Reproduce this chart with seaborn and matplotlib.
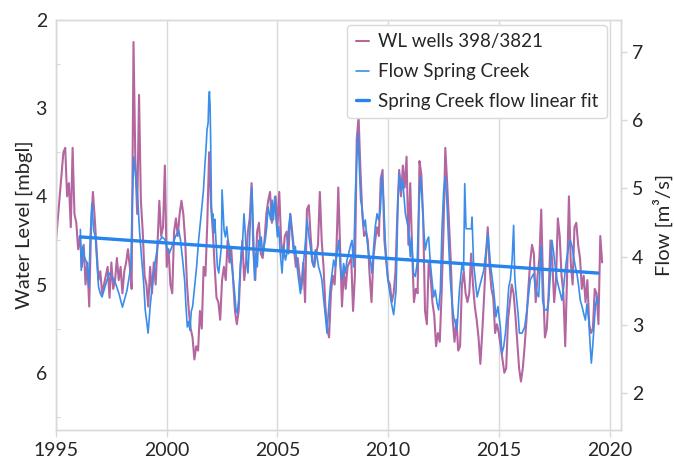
import numpy as np
import matplotlib
matplotlib.use("Agg")
import matplotlib.pyplot as plt
import seaborn as sns
from matplotlib.ticker import MultipleLocator, FixedLocator

# ---- Water level, wells 398/3821 (monthly, m below ground level) ----
wl_first_year = 1995
wl_1995 = [4.5, 4.25, 4.0, 3.75, 3.5, 3.45, 4.0, 3.85, 4.35, 3.45, 4.2, 4.3]
wl_1996 = [4.6, 4.45, 4.8, 4.55, 5.0, 4.75, 5.25, 4.35, 3.95, 4.25, 4.6, 4.95]
wl_1997 = [4.85, 5.1, 5.0, 4.9, 4.8, 5.15, 4.75, 5.05, 4.95, 4.7, 4.95, 4.8]
wl_1998 = [5.1, 4.85, 4.75, 4.6, 4.8, 5.05, 2.25, 3.6, 4.2, 2.85, 4.05, 4.4]
wl_1999 = [4.9, 5.0, 5.25, 4.8, 5.1, 4.75, 5.0, 4.55, 4.05, 4.45, 4.35, 3.65]
wl_2000 = [4.8, 4.6, 5.0, 5.1, 4.4, 4.25, 4.45, 4.2, 4.05, 4.2, 4.5, 5.0]
wl_2001 = [5.3, 5.5, 5.6, 5.85, 5.7, 5.75, 5.3, 5.5, 4.8, 4.9, 4.3, 3.5]
wl_2002 = [4.1, 4.4, 4.8, 5.15, 5.2, 5.4, 4.95, 4.8, 4.95, 4.5, 4.75, 4.6]
wl_2003 = [4.95, 5.3, 5.45, 5.3, 4.8, 4.5, 4.95, 4.75, 4.4, 4.25, 3.85, 4.65]
wl_2004 = [4.95, 4.4, 4.3, 4.65, 4.7, 4.5, 4.2, 4.05, 3.95, 4.3, 4.15, 4.0]
wl_2005 = [4.35, 3.95, 4.5, 4.7, 4.45, 4.4, 4.65, 4.2, 4.4, 4.6, 4.8, 4.7]
wl_2006 = [4.9, 5.05, 4.75, 5.2, 4.15, 4.1, 4.45, 4.75, 4.8, 4.65, 4.55, 3.95]
wl_2007 = [4.5, 4.8, 5.25, 5.5, 5.6, 5.1, 4.9, 5.0, 4.6, 3.9, 4.6, 5.25]
wl_2008 = [4.85, 5.05, 4.8, 4.75, 4.7, 5.3, 4.9, 3.35, 3.1, 3.7, 4.2, 4.45]
wl_2009 = [4.4, 4.5, 4.9, 5.2, 4.7, 4.5, 4.35, 4.45, 3.8, 3.7, 4.5, 4.75]
wl_2010 = [4.95, 5.0, 5.2, 5.1, 4.85, 4.2, 3.7, 4.0, 3.65, 3.9, 3.55, 4.55]
wl_2011 = [3.85, 4.6, 5.2, 5.05, 5.1, 3.6, 3.75, 4.25, 5.3, 5.45, 4.75, 4.9]
wl_2012 = [5.2, 5.35, 5.7, 5.55, 5.65, 5.1, 4.4, 3.45, 3.85, 4.3, 4.75, 5.4]
wl_2013 = [5.65, 5.4, 5.75, 5.7, 5.0, 4.85, 5.1, 5.2, 5.1, 4.65, 5.0, 5.25]
wl_2014 = [5.4, 5.6, 5.9, 5.55, 5.15, 4.7, 4.35, 4.8, 5.05, 5.15, 5.55, 5.45]
wl_2015 = [5.55, 5.7, 5.85, 6.0, 5.95, 5.4, 5.2, 5.0, 5.1, 5.35, 5.65, 5.95]
wl_2016 = [6.1, 5.95, 5.7, 5.4, 5.05, 4.75, 4.55, 4.65, 5.2, 4.9, 4.7, 4.15]
wl_2017 = [5.0, 5.6, 5.5, 5.1, 4.5, 4.75, 5.2, 4.95, 4.25, 4.45, 4.9, 5.1]
wl_2018 = [5.7, 4.9, 4.0, 4.75, 5.0, 4.35, 4.3, 4.55, 4.7, 5.05, 4.9, 5.2]
wl_2019 = [4.95, 5.45, 5.55, 5.5, 5.05, 5.1, 5.45, 4.45, 4.75]

wl_values = (wl_1995 + wl_1996 + wl_1997 + wl_1998 + wl_1999 + wl_2000 + wl_2001
             + wl_2002 + wl_2003 + wl_2004 + wl_2005 + wl_2006 + wl_2007 + wl_2008
             + wl_2009 + wl_2010 + wl_2011 + wl_2012 + wl_2013 + wl_2014 + wl_2015
             + wl_2016 + wl_2017 + wl_2018 + wl_2019)
wl_years = wl_first_year + np.arange(len(wl_values)) / 12.0

# ---- Spring Creek flow (m3/s), irregular sampling, decimal years ----
flow_years = [
    1996.10, 1996.14, 1996.21, 1996.28, 1996.40, 1996.48, 1996.55, 1996.62, 1996.70, 1996.78,
    1996.85, 1996.92, 1997.00, 1997.08, 1997.25, 1997.40, 1997.55, 1997.70, 1997.85, 1998.00,
    1998.20, 1998.38, 1998.43, 1998.51, 1998.58, 1998.70, 1998.77, 1998.86, 1998.96, 1999.03,
    1999.16, 1999.26, 1999.42, 1999.61, 1999.79, 1999.92, 2000.00, 2000.12, 2000.24, 2000.39,
    2000.54, 2000.62, 2000.72, 2000.81, 2000.87, 2000.93, 2000.99, 2001.05, 2001.11, 2001.17,
    2001.26, 2001.35, 2001.44, 2001.56, 2001.66, 2001.72, 2001.78, 2001.82, 2001.87, 2001.90,
    2001.93, 2001.96, 2001.99, 2002.02, 2002.05, 2002.08, 2002.13, 2002.17, 2002.23, 2002.29,
    2002.35, 2002.41, 2002.47, 2002.50, 2002.54, 2002.59, 2002.65, 2002.71, 2002.77, 2002.83,
    2002.89, 2002.95, 2003.01, 2003.07, 2003.13, 2003.19, 2003.25, 2003.31, 2003.37, 2003.43,
    2003.49, 2003.55, 2003.61, 2003.67, 2003.73, 2003.79, 2003.85, 2003.91, 2003.97, 2004.03,
    2004.09, 2004.15, 2004.21, 2004.27, 2004.33, 2004.39, 2004.45, 2004.52, 2004.58, 2004.64,
    2004.70, 2004.76, 2004.82, 2004.88, 2004.94, 2005.00, 2005.06, 2005.13, 2005.21, 2005.28,
    2005.36, 2005.43, 2005.51, 2005.58, 2005.66, 2005.73, 2005.81, 2005.89, 2005.96, 2006.04,
    2006.11, 2006.19, 2006.26, 2006.34, 2006.41, 2006.49, 2006.56, 2006.64, 2006.71, 2006.79,
    2006.86, 2006.94, 2007.01, 2007.09, 2007.17, 2007.24, 2007.32, 2007.39, 2007.47, 2007.54,
    2007.62, 2007.69, 2007.77, 2007.84, 2007.92, 2007.99, 2008.07, 2008.14, 2008.22, 2008.29,
    2008.37, 2008.44, 2008.52, 2008.60, 2008.64, 2008.70, 2008.76, 2008.82, 2008.90, 2008.97,
    2009.05, 2009.12, 2009.20, 2009.27, 2009.35, 2009.42, 2009.50, 2009.57, 2009.65, 2009.72,
    2009.80, 2009.87, 2009.99, 2010.15, 2010.25, 2010.36, 2010.45, 2010.51, 2010.60, 2010.66,
    2010.72, 2010.78, 2010.93, 2011.00, 2011.05, 2011.15, 2011.23, 2011.31, 2011.38, 2011.46,
    2011.53, 2011.61, 2011.68, 2011.76, 2011.83, 2011.91, 2011.98, 2012.06, 2012.13, 2012.21,
    2012.28, 2012.36, 2012.43, 2012.51, 2012.58, 2012.66, 2012.74, 2012.81, 2012.89, 2012.96,
    2013.11, 2013.22, 2013.34, 2013.41, 2013.46, 2013.52, 2013.76, 2013.79, 2013.86, 2014.02,
    2014.17, 2014.32, 2014.51, 2014.62, 2014.77, 2014.81, 2014.87, 2014.96, 2015.07, 2015.14,
    2015.22, 2015.30, 2015.37, 2015.45, 2015.52, 2015.60, 2015.67, 2015.72, 2015.78, 2015.87,
    2015.93, 2016.05, 2016.17, 2016.27, 2016.35, 2016.42, 2016.50, 2016.58, 2016.65, 2016.73,
    2016.80, 2016.88, 2016.92, 2016.98, 2017.07, 2017.18, 2017.25, 2017.33, 2017.40, 2017.48,
    2017.55, 2017.63, 2017.70, 2017.78, 2017.85, 2017.93, 2018.00, 2018.08, 2018.16, 2018.23,
    2018.31, 2018.38, 2018.46, 2018.53, 2018.61, 2018.68, 2018.76, 2018.83, 2018.91, 2018.98,
    2019.06, 2019.13, 2019.18, 2019.24, 2019.30, 2019.36, 2019.44, 2019.48,
]
flow_values = [
    4.40, 3.80, 4.15, 4.00, 3.90, 3.56, 4.29, 4.78, 4.39, 4.29,
    3.91, 3.56, 3.46, 3.41, 3.60, 3.76, 3.70, 3.60, 3.45, 3.26,
    3.50, 3.85, 4.63, 5.46, 5.25, 4.80, 4.39, 4.00, 3.61, 3.22,
    2.88, 3.30, 3.80, 4.20, 4.29, 4.25, 4.15, 4.05, 4.15, 4.29,
    4.39, 4.25, 3.95, 3.65, 3.27, 2.97, 3.05, 2.92, 3.20, 3.27,
    3.56, 3.85, 4.24, 4.63, 4.98, 5.32, 5.61, 5.86, 5.96, 6.30,
    6.42, 6.20, 5.60, 4.73, 4.55, 4.63, 4.35, 4.55, 4.20, 3.85,
    3.76, 3.95, 4.15, 4.98, 4.73, 4.39, 4.29, 4.44, 4.24, 4.15,
    3.95, 3.85, 3.66, 3.46, 3.22, 3.17, 3.37, 3.76, 4.05, 4.24,
    4.63, 4.34, 3.95, 3.76, 4.15, 4.63, 5.02, 4.39, 3.66, 4.05,
    3.85, 4.24, 4.15, 4.29, 4.05, 4.15, 4.24, 4.44, 4.73, 4.63,
    4.54, 4.83, 4.54, 4.88, 4.54, 4.29, 4.44, 4.05, 3.76, 4.15,
    3.95, 4.05, 4.44, 4.63, 4.34, 4.05, 4.15, 3.85, 3.66, 3.46,
    3.66, 3.95, 4.20, 4.54, 4.34, 4.15, 3.95, 3.85, 4.10, 4.00,
    3.85, 3.76, 3.66, 3.37, 3.12, 2.88, 3.27, 3.56, 3.76, 3.95,
    3.85, 4.05, 4.24, 3.85, 3.66, 3.90, 3.76, 3.95, 4.05, 4.15,
    4.24, 3.85, 4.93, 5.56, 5.81, 5.32, 4.83, 4.73, 4.44, 4.54,
    4.24, 4.05, 3.95, 3.76, 4.15, 4.44, 4.63, 4.54, 4.68, 5.20,
    4.80, 4.24, 3.66, 3.32, 3.15, 3.51, 4.88, 5.22, 4.97, 5.12,
    4.88, 4.63, 4.39, 4.00, 4.29, 3.76, 3.71, 3.90, 4.63, 5.17,
    4.88, 4.39, 4.10, 4.24, 4.29, 3.90, 3.66, 3.41, 3.51, 3.32,
    3.22, 3.51, 4.39, 4.97, 5.17, 4.78, 4.14, 3.66, 3.32, 3.12,
    2.93, 3.51, 3.90, 3.80, 5.07, 4.41, 4.41, 4.58, 3.90, 3.41,
    3.61, 3.80, 4.34, 3.90, 3.50, 3.36, 3.12, 3.27, 2.97, 2.58,
    2.68, 2.88, 3.17, 3.56, 3.66, 3.95, 4.46, 3.71, 3.46, 3.17,
    2.88, 2.88, 2.97, 3.22, 3.46, 3.66, 3.71, 3.75, 3.56, 3.46,
    3.41, 3.95, 4.15, 3.36, 3.22, 3.22, 3.36, 3.75, 4.24, 4.05,
    3.85, 3.66, 3.56, 3.46, 3.36, 3.56, 3.80, 4.00, 4.15, 4.24,
    4.15, 4.00, 3.85, 3.75, 3.56, 3.36, 3.27, 3.17, 3.07, 3.31,
    3.07, 2.68, 2.44, 2.68, 2.97, 3.27, 3.41, 3.30,
]

# linear trend of the flow record at its first and last dates (m3/s)
flow_fit_values = [4.29, 3.76]

x_ticks = [1995, 2000, 2005, 2010, 2015, 2020]
wl_ticks = [2, 3, 4, 5, 6]
flow_ticks = [2, 3, 4, 5, 6, 7]

WL_COLOR = "#B3669F"
FLOW_COLOR = "#3A8EEA"
FIT_COLOR = "#2684EC"
FRAME = "#D9D9D9"
TEXT = "#262626"

sns.set_theme(style="white")
plt.rcParams["font.family"] = ["Lato", "DejaVu Sans"]

fig = plt.figure(figsize=(6.74, 4.65), dpi=100)
ax = fig.add_axes([0.0831, 0.0753, 0.8383, 0.8817])

sns.lineplot(x=wl_years, y=wl_values, ax=ax, color=WL_COLOR, lw=1.5,
             estimator=None, sort=False, label="WL wells 398/3821")

ax2 = ax.twinx()
sns.lineplot(x=flow_years, y=flow_values, ax=ax2, color=FLOW_COLOR, lw=1.2,
             estimator=None, sort=False, label="Flow Spring Creek")

fit_x = [flow_years[0], flow_years[-1]]
sns.lineplot(x=fit_x, y=flow_fit_values, ax=ax2, color=FIT_COLOR, lw=2.4,
             estimator=None, sort=False, label="Spring Creek flow linear fit")

# axes ranges
ax.set_xlim(1995, 2020.52)
ax.set_ylim(6.65, 2.0)
ax2.set_ylim(1.46, 7.47)

# x axis: grid at 5-year marks
ax.xaxis.set_major_locator(FixedLocator(x_ticks))
ax.set_xticklabels([str(t) for t in x_ticks])
ax.grid(axis="x", color=FRAME, lw=1.0)
ax.grid(axis="y", visible=False)
ax2.grid(False)
ax.set_axisbelow(True)

# left axis
ax.yaxis.set_major_locator(FixedLocator(wl_ticks))
ax.yaxis.set_minor_locator(MultipleLocator(0.5))
ax.set_yticklabels([str(t) for t in wl_ticks])
ax.tick_params(axis="y", which="major", length=0, pad=6.5, labelsize=14, labelcolor=TEXT)
ax.tick_params(axis="y", which="minor", direction="in", length=3, width=0.8, color=FRAME, left=True)
ax.tick_params(axis="x", which="major", direction="out", length=5, width=1, color=FRAME,
               pad=4, labelsize=14, labelcolor=TEXT, bottom=True)

# right axis
ax2.yaxis.set_major_locator(FixedLocator(flow_ticks))
ax2.set_yticklabels([str(t) for t in flow_ticks])
ax2.tick_params(axis="y", which="major", direction="out", length=4, width=1, color=FRAME,
                pad=4, labelsize=14, labelcolor=TEXT, right=True)

for a in (ax, ax2):
    for s in a.spines.values():
        s.set_color(FRAME)
        s.set_linewidth(1.0)
        s.set_visible(True)

ax.set_xlabel("")
ax.set_ylabel("Water Level [mbgl]", fontsize=14.5, color=TEXT, labelpad=2)
ax2.set_ylabel("Flow [m³/s]", fontsize=14.5, color=TEXT, labelpad=7)

# single legend for both axes
h1, l1 = ax.get_legend_handles_labels()
h2, l2 = ax2.get_legend_handles_labels()
ax.get_legend().remove()
ax2.get_legend().remove()
leg = ax2.legend(h1 + h2, l1 + l2, loc="upper right", bbox_to_anchor=(0.975, 0.988),
                 borderaxespad=0, fontsize=13.5, frameon=True, fancybox=True,
                 handlelength=0.7, handletextpad=0.5, labelspacing=0.68,
                 borderpad=0.45, framealpha=1)
leg.get_frame().set_edgecolor(FRAME)
leg.get_frame().set_linewidth(1.0)
for t in leg.get_texts():
    t.set_color(TEXT)

fig.savefig("out.png", dpi=100)
